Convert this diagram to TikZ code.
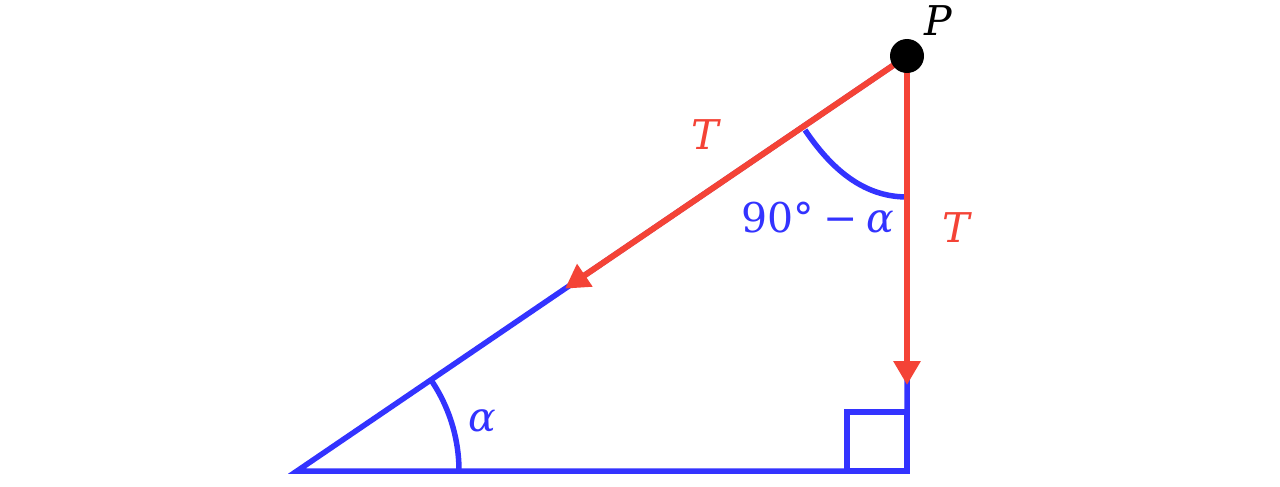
\documentclass[tikz,border=0pt]{standalone}
\usepackage{fontspec}
\setmainfont{DejaVu Serif}
\usetikzlibrary{arrows.meta,calc}
\definecolor{myred}{RGB}{244,67,54}
\definecolor{myblue}{RGB}{51,51,255}
\tikzset{
  blueline/.style={draw=myblue, line width=5.5pt},
  redline/.style={draw=myred, line width=6pt, -{Triangle[length=24pt,width=26pt]}},
  lbl/.style={inner sep=0pt, font=\fontsize{41pt}{49pt}\selectfont},
}
\begin{document}
\begin{tikzpicture}[x=1pt,y=-1pt]
\useasboundingbox (0,0) rectangle (1280,487);
\coordinate (A) at (297,471);
\coordinate (B) at (907,471);
\coordinate (P) at (907,56);
\coordinate (H) at (565,288.7);
\coordinate (V) at (907,385);
% triangle
\draw[blueline] (A) -- (B) -- (P) -- cycle;
% right-angle mark
\draw[blueline] (847,471) rectangle (907,412);
% angle arcs
\draw[blueline] ($(A)+(162,0)$) arc[start angle=0, end angle=-34.23, radius=162];
\draw[blueline] (805,130) .. controls (830,167) and (862,197) .. (907,197);
% tension arrows
\draw[redline] (P) -- (H);
\draw[redline] (P) -- (V);
% point P
\node[circle, fill=black, minimum size=34pt, inner sep=0pt] (dot) at (P) {};
% labels
\node[lbl, text=black] (lP) at (938,21) {\itshape P};
\node[lbl, text=myred] (lT1) at (705,135) {\itshape T};
\node[lbl, text=myred] (lT2) at (956,228) {\itshape T};
\node[lbl, text=myblue] (lang) at (818,218) {90°\hspace{9pt}−\hspace{9pt}\itshape α};
\node[lbl, text=myblue] (lalpha) at (482,421) {\itshape α};
\end{tikzpicture}
\end{document}
